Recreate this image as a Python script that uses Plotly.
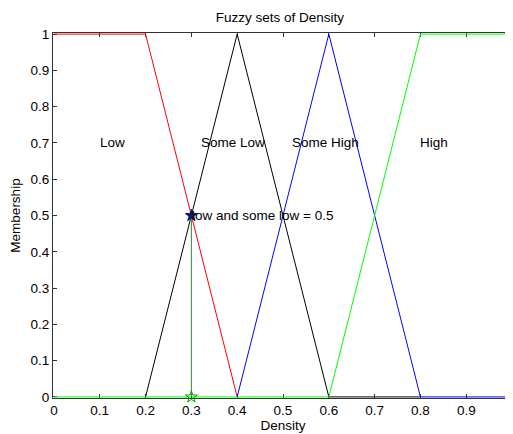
import plotly.graph_objects as go

# Membership function breakpoints
low_x = [0, 0.2, 0.4]
low_y = [1, 1, 0]
somelow_x = [0.2, 0.4, 0.6, 0.8]
somelow_y = [0, 1, 0, 0]
somehigh_x = [0.4, 0.6, 0.8, 1.0]
somehigh_y = [0, 1, 0, 0]
high_x = [0, 0.6, 0.8, 1.0]
high_y = [0, 0, 1, 1]

# Evaluation point
eval_x = 0.3
eval_y = 0.5

label_texts = ["Low", "Some Low", "Some High", "High"]
label_x = [0.1, 0.32, 0.52, 0.8]
label_y = [0.7, 0.7, 0.7, 0.7]

xticks = [0, 0.1, 0.2, 0.3, 0.4, 0.5, 0.6, 0.7, 0.8, 0.9, 1]
yticks = [0, 0.1, 0.2, 0.3, 0.4, 0.5, 0.6, 0.7, 0.8, 0.9, 1]

FONT = "Liberation Sans, Arial, sans-serif"
FS = 13.5

fig = go.Figure()
fig.add_trace(go.Scatter(x=low_x, y=low_y, mode="lines", line=dict(color="#ff0000", width=1)))
fig.add_trace(go.Scatter(x=somehigh_x, y=somehigh_y, mode="lines", line=dict(color="#0000ff", width=1)))
fig.add_trace(go.Scatter(x=somelow_x, y=somelow_y, mode="lines", line=dict(color="#000000", width=1)))
fig.add_trace(go.Scatter(x=high_x, y=high_y, mode="lines", line=dict(color="#00ff00", width=1)))
fig.add_trace(go.Scatter(x=[eval_x, eval_x], y=[0, eval_y], mode="lines", line=dict(color="#2e8b2e", width=1)))
fig.add_trace(go.Scatter(x=[eval_x], y=[0], mode="markers", cliponaxis=False,
                         marker=dict(symbol="star-open", size=9, color="#00a000", line=dict(width=1, color="#00a000"))))
fig.add_trace(go.Scatter(x=[eval_x], y=[eval_y], mode="markers", cliponaxis=False,
                         marker=dict(symbol="star", size=9, color="#0a1a6e", line=dict(width=1, color="#0a1a6e"))))

for t, x, y in zip(label_texts, label_x, label_y):
    fig.add_annotation(x=x, y=y, text=t, showarrow=False, xanchor="left", yanchor="middle", xshift=-2,
                       font=dict(family=FONT, size=FS, color="#000000"))
fig.add_annotation(x=eval_x, y=eval_y, text="low and some low = 0.5", showarrow=False,
                   xanchor="left", yanchor="middle", xshift=-1,
                   font=dict(family=FONT, size=FS, color="#000000"))

axis_common = dict(showgrid=False, zeroline=False, showline=True, linecolor="#333333", linewidth=1,
                   mirror="ticks", ticks="inside", ticklen=4, tickcolor="#333333", automargin=False,
                   layer="below traces",
                   tickfont=dict(family=FONT, size=FS, color="#000000"))

fig.update_layout(
    width=513, height=434,
    margin=dict(l=45, r=8, t=25, b=44),
    paper_bgcolor="white", plot_bgcolor="white",
    showlegend=False,
    title=dict(text="Fuzzy sets of Density", x=0.530, xanchor="center", y=0.979, yanchor="middle",
               automargin=False, font=dict(family=FONT, size=FS, color="#000000")),
    xaxis=dict(range=[-0.002, 1.002], tickvals=xticks, ticktext=[f"{v:g}" for v in xticks],
               title=dict(text="Density", standoff=2, font=dict(family=FONT, size=FS, color="#000000")),
               **axis_common),
    yaxis=dict(range=[-0.003, 1.003], tickvals=yticks, ticktext=[f"{v:g}" for v in yticks],
               title=dict(text="Membership", standoff=9, font=dict(family=FONT, size=FS, color="#000000")),
               **axis_common),
)

fig.write_html("out.html")
